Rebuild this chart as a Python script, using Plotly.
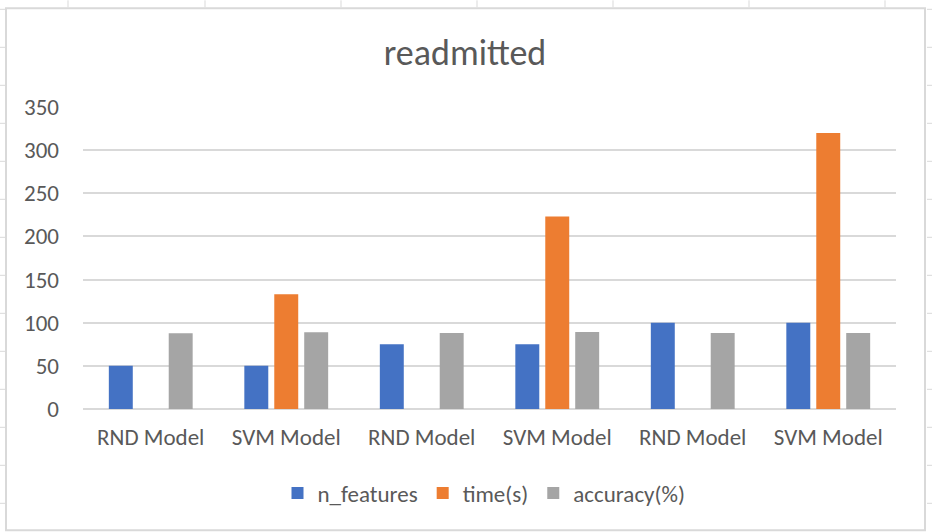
import plotly.graph_objects as go

categories = ["RND Model", "SVM Model", "RND Model", "SVM Model", "RND Model", "SVM Model"]
n_features = [50, 50, 75, 75, 100, 100]
time_s = [0, 133, 0, 223, 0, 320]
accuracy = [87.7, 88.9, 88.0, 89.2, 88.0, 88.0]
y_ticks = [0, 50, 100, 150, 200, 250, 300, 350]
series_names = ["n_features", "time(s)", "accuracy(%)"]
colors = ["#4472C4", "#ED7D31", "#A5A5A5"]

W, H = 932, 532
L, R, T, B = 83, 896, 106.7, 408.7  # plot area in pixels

def px(x):
    return (x - L) / (R - L)

def py(y):
    return (B - y) / (B - T)

xs = list(range(len(categories)))
fig = go.Figure()
for name, vals, col in zip(series_names, [n_features, time_s, accuracy], colors):
    fig.add_trace(go.Bar(x=xs, y=vals, name=name, marker=dict(color=col, line=dict(width=0))))

FONT = "Carlito, Calibri, Lato, sans-serif"
shapes = []
# chart frame
shapes.append(dict(type="rect", xref="paper", yref="paper", x0=px(6), x1=px(925), y0=py(530), y1=py(8),
                   line=dict(color="#d9d9d9", width=2), layer="below"))
# spreadsheet column lines above the chart
for cx in [68, 205, 341, 477, 613, 749, 885]:
    shapes.append(dict(type="line", xref="paper", yref="paper", x0=px(cx), x1=px(cx), y0=py(0), y1=py(7),
                       line=dict(color="#d9d9d9", width=1)))
# spreadsheet row lines at the sides
for ry in range(9, 532, 38):
    shapes.append(dict(type="line", xref="paper", yref="paper", x0=px(0), x1=px(5), y0=py(ry), y1=py(ry),
                       line=dict(color="#d9d9d9", width=1)))
    shapes.append(dict(type="line", xref="paper", yref="paper", x0=px(927), x1=px(932), y0=py(ry), y1=py(ry),
                       line=dict(color="#d9d9d9", width=1)))

fig.update_layout(
    width=W, height=H,
    margin=dict(l=L, r=W - R, t=T, b=H - B, pad=0),
    paper_bgcolor="white", plot_bgcolor="white",
    barmode="group", bargap=0.337, bargroupgap=0.2,
    title=dict(text="readmitted", x=465 / W, xanchor="center", xref="container",
               y=1 - 52 / H, yanchor="middle", yref="container",
               font=dict(family=FONT, size=36, color="#595959")),
    font=dict(family=FONT, color="#595959"),
    legend=dict(orientation="h", x=484 / W, xanchor="center", xref="container",
                y=1 - 493 / H, yanchor="middle", yref="container",
                font=dict(family=FONT, size=23, color="#595959"), itemwidth=30,
                traceorder="normal"),
    shapes=shapes,
)
fig.update_xaxes(tickvals=xs, ticktext=categories, range=[-0.5, len(categories) - 0.5],
                 showgrid=False, showline=False, zeroline=False, ticks="",
                 tickfont=dict(family=FONT, size=23, color="#595959"), ticklabelstandoff=12)
fig.update_yaxes(range=[0, 350], tickvals=y_ticks, showgrid=True, gridcolor="#d9d9d9", gridwidth=1.5,
                 zeroline=True, zerolinecolor="#d9d9d9", zerolinewidth=1.5, showline=False, ticks="",
                 tickfont=dict(family=FONT, size=23, color="#595959"), ticklabelstandoff=23)

fig.write_html("out.html")
